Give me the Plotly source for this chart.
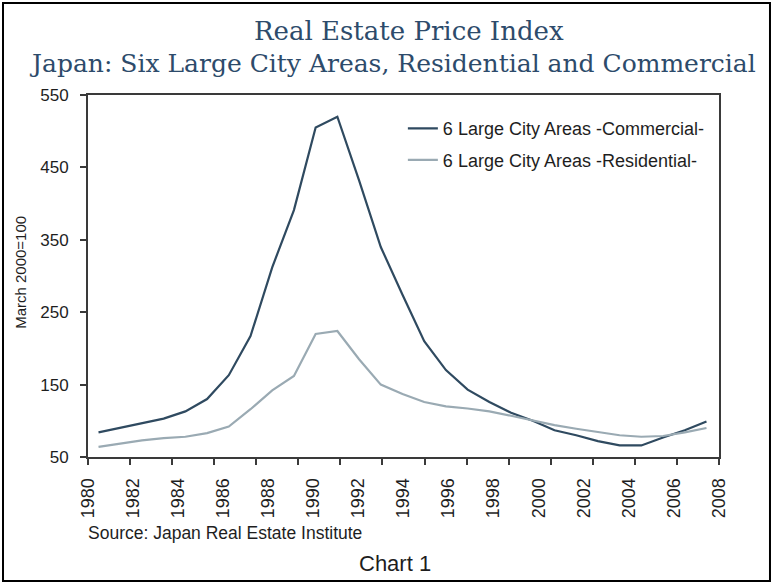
import numpy as np
import plotly.graph_objects as go

# Annual index values, March 2000 = 100
years = list(range(1980, 2009))
commercial = [84, 90, 97, 103, 113, 130, 163, 217, 312, 391, 505, 520, 432, 340,
              274, 210, 170, 143, 126, 111, 100, 87, 80, 72, 66, 66, 77, 87, 99]
residential = [64, 69, 73, 76, 78, 83, 92, 116, 142, 162, 220, 224, 185, 150,
               137, 126, 120, 117, 113, 107, 100, 94, 89, 84, 80, 78, 79, 84, 90]
tick_labels = [str(y) for y in range(1980, 2009, 2)]
y_ticks = [50, 150, 250, 350, 450, 550]

COMM_COLOR = "#2f4a60"
RES_COLOR = "#9aaab3"
TITLE_COLOR = "#2d4b6b"
TXT = "#1e1e1e"
SANS = "Liberation Sans, Arial, sans-serif"
SERIF = "DejaVu Serif, Liberation Serif, serif"

# category-style axis: half a slot of padding on each side
x_range = [1979.516, 2008.576]
label_pos = list(np.linspace(x_range[0], x_range[1], len(tick_labels)))
minor_pos = list(np.linspace(x_range[0], x_range[1], 16))

fig = go.Figure()
fig.add_trace(go.Scatter(
    x=years, y=commercial, mode="lines", name="6 Large City Areas -Commercial-",
    line=dict(color=COMM_COLOR, width=2.2), legendgroup="c"))
fig.add_trace(go.Scatter(
    x=years, y=residential, mode="lines", name="6 Large City Areas -Residential-",
    line=dict(color=RES_COLOR, width=2.2), legendgroup="r"))

fig.update_layout(
    width=774, height=584,
    margin=dict(l=88, r=55, t=95, b=127, pad=0),
    paper_bgcolor="white", plot_bgcolor="white",
    font=dict(family=SANS, color=TXT),
    showlegend=True,
    legend=dict(x=0.499, y=0.958, xanchor="left", yanchor="top",
                bgcolor="rgba(0,0,0,0)", borderwidth=0,
                font=dict(size=18, color=TXT, family=SANS),
                traceorder="grouped", tracegroupgap=5, itemwidth=30),
)

fig.update_xaxes(
    range=x_range, showgrid=False, zeroline=False,
    showline=True, linecolor="#3a3a3a", linewidth=2, mirror=True,
    tickmode="array", tickvals=label_pos, ticktext=tick_labels,
    ticks="", tickangle=-90, ticklabelstandoff=12,
    tickfont=dict(size=18, family=SANS, color=TXT),
    minor=dict(tickmode="array", tickvals=minor_pos, ticks="outside",
               ticklen=6, tickwidth=2, tickcolor="#3a3a3a", showgrid=False),
)
fig.update_yaxes(
    range=[50, 550], showgrid=False, zeroline=False,
    showline=True, linecolor="#3a3a3a", linewidth=2, mirror=True,
    tickmode="array", tickvals=y_ticks,
    ticks="outside", ticklen=6, tickwidth=2, tickcolor="#3a3a3a",
    ticklabelstandoff=8,
    tickfont=dict(size=17, family=SANS, color=TXT),
)

annotations = [
    dict(text="Real Estate Price Index", x=0.508, y=1.176, xref="paper", yref="paper",
         showarrow=False, font=dict(family=SERIF, size=26, color=TITLE_COLOR),
         xanchor="center", yanchor="middle"),
    dict(text="Japan: Six Large City Areas, Residential and Commercial",
         x=0.482, y=1.086, xref="paper", yref="paper",
         showarrow=False, font=dict(family=SERIF, size=25, color=TITLE_COLOR),
         xanchor="center", yanchor="middle"),
    dict(text="March 2000=100", x=-0.108, y=0.511, xref="paper", yref="paper",
         textangle=-90, showarrow=False, font=dict(size=15, color=TXT),
         xanchor="center", yanchor="middle"),
    dict(text="Source: Japan Real Estate Institute", x=-0.003, y=-0.21,
         xref="paper", yref="paper", showarrow=False,
         font=dict(size=17.5, color=TXT), xanchor="left", yanchor="middle"),
    dict(text="Chart 1", x=0.487, y=-0.294, xref="paper", yref="paper",
         showarrow=False, font=dict(size=22, color=TXT),
         xanchor="center", yanchor="middle"),
]
fig.update_layout(annotations=annotations)

# thin black frame around the whole figure
fig.add_shape(type="rect", xref="paper", yref="paper",
              x0=-0.1347, x1=1.0808, y0=-0.3425, y1=1.254,
              line=dict(color="black", width=2), fillcolor="rgba(0,0,0,0)",
              layer="above")

fig.write_html("out.html")
